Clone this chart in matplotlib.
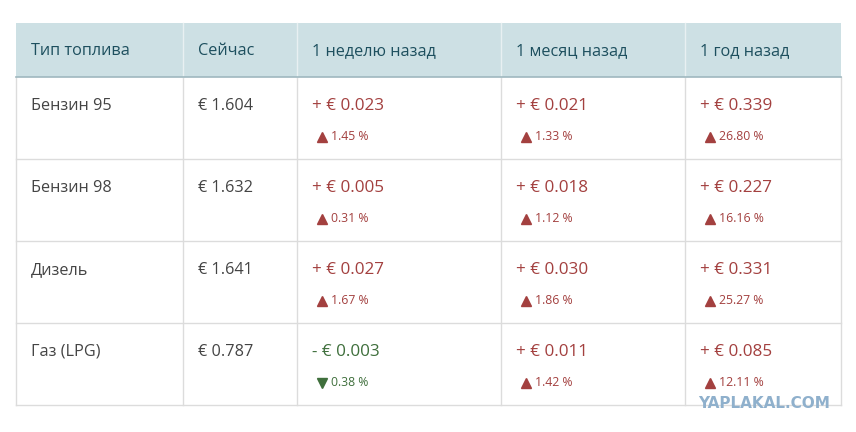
import matplotlib.pyplot as plt
from matplotlib.patches import Rectangle

plt.rcParams['font.family'] = ['Open Sans', 'DejaVu Sans']

# table data
headers = ['Тип топлива', 'Сейчас', '1 неделю назад', '1 месяц назад', '1 год назад']
fuels = ['Бензин 95', 'Бензин 98', 'Дизель', 'Газ (LPG)']
prices = [1.604, 1.632, 1.641, 0.787]
delta_week = [0.023, 0.005, 0.027, -0.003]
delta_month = [0.021, 0.018, 0.030, 0.011]
delta_year = [0.339, 0.227, 0.331, 0.085]
pct_week = [1.45, 0.31, 1.67, 0.38]
pct_month = [1.33, 1.12, 1.86, 1.42]
pct_year = [26.80, 16.16, 25.27, 12.11]

# layout in pixels
col_edges = [16, 183, 297, 501, 685, 841]
top, head_h, row_h = 23, 54, 82
pad = 15

RED = '#a3403f'
GREEN = '#3f6f3c'
HEAD_BG = '#cde0e4'
HEAD_TXT = '#1d4f5e'
GRID = '#dcdcdc'
TXT = '#444444'

fig = plt.figure(figsize=(8.56, 4.32), dpi=100)
ax = fig.add_axes([0, 0, 1, 1])
ax.set_xlim(0, 856)
ax.set_ylim(432, 0)
ax.axis('off')

n_rows = len(fuels)
bottom = top + head_h + n_rows * row_h

# header
ax.add_patch(Rectangle((col_edges[0], top), col_edges[-1] - col_edges[0], head_h,
                       facecolor=HEAD_BG, edgecolor='none'))
for i, h in enumerate(headers):
    ax.text(col_edges[i] + pad, top + head_h / 2 + 1, h, fontsize=11.7,
            color=HEAD_TXT, va='center', ha='left')

# grid lines
for x in col_edges:
    ax.plot([x, x], [top + head_h, bottom], color=GRID, lw=1, zorder=1)
for x in col_edges[1:-1]:
    ax.plot([x, x], [top, top + head_h], color='#e8f0f2', lw=1, zorder=2)
ax.plot([col_edges[0], col_edges[-1]], [top + head_h, top + head_h],
        color='#9fb8bf', lw=1.2, zorder=2)
for r in range(1, n_rows + 1):
    y = top + head_h + r * row_h
    ax.plot([col_edges[0], col_edges[-1]], [y, y], color=GRID, lw=1)

def change_cell(col, y0, d, p):
    x = col_edges[col] + pad
    c = RED if d >= 0 else GREEN
    sign = '+' if d >= 0 else '-'
    ax.text(x, y0 + 29, f'{sign} € {abs(d):.3f}', fontsize=12.3, color=c,
            va='center', ha='left')
    ax.plot(x + 10, y0 + 60, marker='^' if d >= 0 else 'v', color=c,
            markersize=7.5, lw=0)
    ax.text(x + 19, y0 + 60, f'{p:.2f} %', fontsize=8.8, color=c,
            va='center', ha='left')

for r in range(n_rows):
    y0 = top + head_h + r * row_h
    ax.text(col_edges[0] + pad, y0 + 29, fuels[r], fontsize=11.7, color=TXT,
            va='center', ha='left')
    ax.text(col_edges[1] + pad, y0 + 29, f'€ {prices[r]:.3f}', fontsize=11.7,
            color=TXT, va='center', ha='left')
    change_cell(2, y0, delta_week[r], pct_week[r])
    change_cell(3, y0, delta_month[r], pct_month[r])
    change_cell(4, y0, delta_year[r], pct_year[r])

# watermark
ax.text(830, 403, 'YAPLAKAL.COM', fontsize=11, fontweight='bold',
        color='#8fb0cc', ha='right', va='center', family='DejaVu Sans')

fig.savefig('out.png', dpi=100)
